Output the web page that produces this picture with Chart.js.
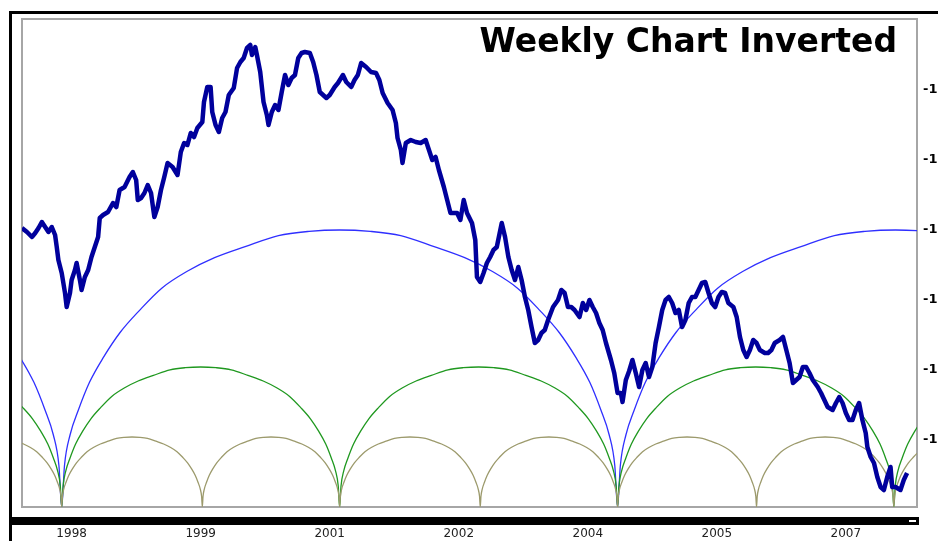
<!DOCTYPE html>
<html>
<head>
<meta charset="utf-8">
<title>Weekly Chart Inverted</title>
<script src="https://cdn.jsdelivr.net/npm/chart.js@4.4.1/dist/chart.umd.min.js"></script>
<style>
  html, body { margin: 0; padding: 0; background: #fff; overflow: hidden; }
  #wrap { width: 938px; height: 541px; overflow: hidden; }
</style>
</head>
<body>
<div id="wrap"><canvas id="weeklyChart" width="980" height="541"></canvas></div>
<script>
// Weekly closes (x = week number from the left edge)
const weeks = [
  0, 3, 6, 8, 10, 12, 14, 16, 18, 20,
  21, 22, 24, 26, 27, 29, 30, 32, 33, 35,
  36, 38, 40, 42, 44, 46, 47, 49, 52, 55,
  57, 59, 62, 65, 67, 69, 70, 72, 74, 76,
  78, 80, 82, 84, 86, 88, 91, 94, 96, 98,
  100, 102, 104, 106, 109, 110, 112, 114, 115, 117,
  119, 121, 123, 125, 128, 130, 132, 134, 136, 138,
  139, 141, 142, 144, 146, 148, 149, 151, 153, 155,
  157, 159, 161, 163, 165, 167, 169, 171, 174, 176,
  178, 180, 182, 184, 186, 189, 191, 194, 196, 199,
  201, 203, 205, 208, 211, 214, 216, 218, 221, 224,
  226, 227, 229, 230, 232, 235, 238, 241, 244, 246,
  248, 250, 252, 255, 257, 259, 261, 263, 265, 267,
  269, 272, 274, 275, 277, 279, 281, 283, 285, 287,
  290, 292, 294, 296, 298, 300, 302, 304, 306, 308,
  310, 312, 314, 316, 318, 321, 324, 326, 328, 330,
  332, 334, 337, 339, 341, 343, 345, 347, 349, 351,
  353, 356, 358, 360, 362, 363, 365, 367, 369, 371,
  373, 375, 377, 379, 381, 383, 385, 387, 389, 391,
  393, 395, 397, 399, 401, 403, 405, 407, 409, 411,
  413, 415, 417, 419, 421, 423, 425, 427, 430, 432,
  434, 436, 438, 440, 442, 444, 446, 449, 451, 453,
  455, 458, 460, 462, 464, 466, 468, 470, 472, 474,
  476, 478, 481, 483, 485, 487, 490, 492, 494, 496,
  498, 500, 502, 504, 506, 508, 510, 511, 513, 515,
  517, 519, 521, 523, 525, 526, 528, 531, 533, 535,
];
const closes = [
  1238, 1242, 1247, 1243, 1238, 1232, 1237, 1242, 1237, 1245,
  1257, 1270, 1283, 1303, 1317, 1303, 1290, 1280, 1273, 1290,
  1300, 1287, 1280, 1267, 1257, 1247, 1228, 1225, 1222, 1213,
  1217, 1200, 1197, 1187, 1182, 1190, 1210, 1208, 1203, 1195,
  1203, 1227, 1217, 1200, 1187, 1173, 1177, 1185, 1162, 1153,
  1155, 1143, 1147, 1138, 1132, 1112, 1097, 1097, 1122, 1135,
  1142, 1128, 1122, 1105, 1098, 1078, 1072, 1068, 1058, 1055,
  1065, 1057, 1065, 1082, 1112, 1125, 1135, 1122, 1115, 1120,
  1102, 1085, 1095, 1088, 1085, 1068, 1063, 1062, 1063, 1072,
  1085, 1102, 1105, 1108, 1105, 1097, 1093, 1085, 1092, 1097,
  1090, 1085, 1073, 1077, 1082, 1083, 1090, 1103, 1113, 1120,
  1133, 1148, 1160, 1173, 1153, 1150, 1152, 1153, 1150, 1160,
  1170, 1167, 1180, 1197, 1210, 1223, 1223, 1223, 1230, 1210,
  1223, 1233, 1250, 1287, 1292, 1283, 1273, 1267, 1260, 1257,
  1233, 1247, 1267, 1280, 1290, 1277, 1290, 1307, 1320, 1337,
  1353, 1350, 1343, 1340, 1330, 1317, 1310, 1300, 1303, 1317,
  1317, 1320, 1327, 1313, 1320, 1310, 1317, 1323, 1333, 1340,
  1353, 1370, 1383, 1403, 1403, 1412, 1390, 1381, 1370, 1383,
  1397, 1380, 1373, 1387, 1377, 1353, 1337, 1320, 1310, 1307,
  1313, 1323, 1320, 1337, 1330, 1313, 1307, 1307, 1300, 1293,
  1292, 1303, 1313, 1317, 1307, 1302, 1303, 1313, 1317, 1327,
  1347, 1360, 1367, 1360, 1350, 1353, 1360, 1363, 1363, 1360,
  1353, 1350, 1347, 1360, 1373, 1393, 1390, 1387, 1377, 1377,
  1383, 1390, 1397, 1403, 1410, 1417, 1420, 1413, 1407, 1413,
  1423, 1430, 1430, 1420, 1413, 1430, 1443, 1457, 1467, 1473,
  1487, 1497, 1500, 1487, 1477, 1497, 1497, 1500, 1490, 1483,
];

// Right axis ticks (inverted values)
const valueTicks = [-1450, -1380, -1310, -1240, -1170, -1100];

// Bottom axis
const yearTickWeeks = [30, 108, 186, 264, 342, 420, 498];
const yearTickLabels = ["1998", "1999", "2001", "2002", "2004", "2005", "2007"];

// Cycle lows (weeks) and arc heights
const blueLows = [-312, 24, 360, 696];
const greenLows = [-144, 24, 192, 360, 527, 695];
const oliveLows = [-60, 24, 109, 192, 277, 360, 444, 527, 611];
const cycleBase = 1517;
const blueHeight = 277;
const greenHeight = 140;
const oliveHeight = 70;
// half arch shape: share of half-cycle -> share of arc height
const arcShapeT = [0, 0.01, 0.03, 0.06, 0.1, 0.15, 0.21, 0.28, 0.36, 0.45, 0.55, 0.66, 0.78, 0.89, 1];
const arcShapeH = [0, 0.15, 0.26, 0.35, 0.45, 0.54, 0.63, 0.71, 0.79, 0.85, 0.9, 0.94, 0.98, 0.995, 1];

// Build the arches between consecutive lows
const buildArcs = (lows, height) => {
  const pts = [];
  for (let i = 0; i < lows.length - 1; i++) {
    const a = lows[i];
    const b = lows[i + 1];
    const half = (b - a) / 2;
    arcShapeT.forEach((t, k) => {
      if (i > 0 && k === 0) return;
      pts.push({ x: a + half * t, y: -(cycleBase - height * arcShapeH[k]) });
    });
    for (let k = arcShapeT.length - 2; k >= 0; k--) {
      pts.push({ x: b - half * arcShapeT[k], y: -(cycleBase - height * arcShapeH[k]) });
    }
  }
  return pts;
};

// Frame, scrollbar and title
const framePlugin = {
  id: "frame",
  beforeDraw(chart) {
    const { ctx } = chart;
    ctx.save();
    ctx.fillStyle = "#fff";
    ctx.fillRect(0, 0, chart.width, chart.height);
    ctx.fillStyle = "#000";
    ctx.fillRect(9, 11, 3, chart.height); // left edge
    ctx.fillRect(9, 11, chart.width, 3); // top edge
    ctx.fillRect(12, 517, 907, 8); // scrollbar
    ctx.fillStyle = "#fff";
    ctx.fillRect(909, 520, 7, 2);
    ctx.restore();
  },
  beforeDatasetsDraw(chart) {
    const { ctx, chartArea: a } = chart;
    ctx.save();
    ctx.strokeStyle = "#a6a6a6";
    ctx.lineWidth = 2;
    ctx.strokeRect(a.left, a.top, a.right - a.left, a.bottom - a.top);
    ctx.restore();
  },
  afterDraw(chart) {
    const { ctx } = chart;
    ctx.save();
    ctx.fillStyle = "#000";
    ctx.font = "bold 33px 'DejaVu Sans'";
    ctx.textAlign = "right";
    ctx.textBaseline = "alphabetic";
    ctx.fillText("Weekly Chart Inverted", 897, 52);
    ctx.restore();
  },
};

document.addEventListener("DOMContentLoaded", () => {
  const ctx = document.getElementById("weeklyChart").getContext("2d");
  const arcStyle = (color) => ({
    borderColor: color,
    borderWidth: 1.3,
    pointRadius: 0,
    cubicInterpolationMode: "monotone",
    fill: false,
    clip: 0,
  });

  new Chart(ctx, {
    type: "line",
    data: {
      datasets: [
        {
          label: "Weekly (inverted)",
          data: weeks.map((w, i) => ({ x: w, y: -closes[i] })),
          borderColor: "#00009c",
          borderWidth: 4.5,
          borderJoinStyle: "round",
          pointRadius: 0,
          tension: 0,
          fill: false,
          clip: 0,
        },
        { label: "Olive cycle", data: buildArcs(oliveLows, oliveHeight), ...arcStyle("#9c9a6c") },
        { label: "Green cycle", data: buildArcs(greenLows, greenHeight), ...arcStyle("#1f981f") },
        { label: "Blue cycle", data: buildArcs(blueLows, blueHeight), ...arcStyle("#2f2fff") },
      ],
    },
    options: {
      responsive: false,
      animation: false,
      devicePixelRatio: 1,
      layout: { padding: { left: 22, top: 19, right: 0, bottom: 0 } },
      plugins: { legend: { display: false }, tooltip: { enabled: false } },
      scales: {
        x: {
          type: "linear",
          min: 0,
          max: 541,
          grid: { display: false, drawTicks: false },
          border: { display: false },
          afterFit: (s) => { s.height = 34; },
          afterBuildTicks: (s) => { s.ticks = yearTickWeeks.map((v) => ({ value: v })); },
          ticks: {
            padding: 20,
            autoSkip: false,
            maxRotation: 0,
            color: "#222",
            font: { family: "DejaVu Sans", size: 12 },
            callback: (v, i) => yearTickLabels[i],
          },
        },
        y: {
          position: "right",
          min: -1517,
          max: -1029,
          grid: { display: false, drawTicks: false },
          border: { display: false },
          afterFit: (s) => { s.width = 63; },
          afterBuildTicks: (s) => { s.ticks = valueTicks.map((v) => ({ value: v })); },
          ticks: {
            padding: 6,
            color: "#000",
            font: { family: "DejaVu Sans", size: 13, weight: "bold" },
            callback: (v) => String(v),
          },
        },
      },
    },
    plugins: [framePlugin],
  });
});
</script>
</body>
</html>
